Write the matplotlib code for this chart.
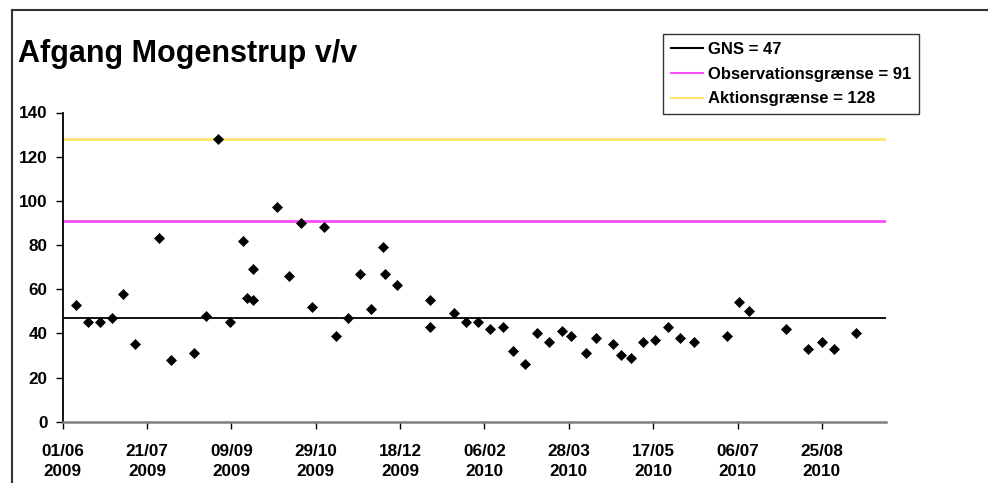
import matplotlib
matplotlib.use("Agg")
import matplotlib.pyplot as plt
import matplotlib.dates as mdates
from matplotlib.lines import Line2D
import numpy as np

plt.rcParams['font.family'] = ['Liberation Sans', 'DejaVu Sans']

title = "Afgang Mogenstrup v/v"

dates = [
    "2009-06-09", "2009-06-16", "2009-06-23", "2009-06-30", "2009-07-07", "2009-07-14",
    "2009-07-28", "2009-08-04", "2009-08-18", "2009-08-25", "2009-09-01", "2009-09-08",
    "2009-09-16", "2009-09-18", "2009-09-22", "2009-09-22", "2009-10-06", "2009-10-13",
    "2009-10-20", "2009-10-27", "2009-11-03", "2009-11-10", "2009-11-17", "2009-11-24",
    "2009-12-01", "2009-12-08", "2009-12-09", "2009-12-16", "2010-01-05", "2010-01-05",
    "2010-01-19", "2010-01-26", "2010-02-02", "2010-02-09", "2010-02-17", "2010-02-23",
    "2010-03-02", "2010-03-09", "2010-03-16", "2010-03-24", "2010-03-29", "2010-04-07",
    "2010-04-13", "2010-04-23", "2010-04-28", "2010-05-04", "2010-05-11", "2010-05-18",
    "2010-05-26", "2010-06-02", "2010-06-10", "2010-06-30", "2010-07-07", "2010-07-13",
    "2010-08-04", "2010-08-17", "2010-08-25", "2010-09-01", "2010-09-14",
]
values = [
    53, 45, 45, 47, 58, 35,
    83, 28, 31, 48, 128, 45,
    82, 56, 69, 55, 97, 66,
    90, 52, 88, 39, 47, 67,
    51, 79, 67, 62, 55, 43,
    49, 45, 45, 42, 43, 32,
    26, 40, 36, 41, 39, 31,
    38, 35, 30, 29, 36, 37,
    43, 38, 36, 39, 54, 50,
    42, 33, 36, 33, 40,
]

gns = 47
obs = 91
akt = 128
legend_labels = ["GNS = 47", "Observationsgrænse = 91", "Aktionsgrænse = 128"]
line_colors = ["#000000", "#FF4DFF", "#FFE36E"]

x_start = "2009-06-01"
x_end = "2010-10-02"
tick_dates = ["2009-06-01", "2009-07-21", "2009-09-09", "2009-10-29", "2009-12-18",
              "2010-02-06", "2010-03-28", "2010-05-17", "2010-07-06", "2010-08-25"]
y_ticks = [0, 20, 40, 60, 80, 100, 120, 140]

W, H = 988, 483
fig = plt.figure(figsize=(W / 100, H / 100), dpi=100)
ax = fig.add_axes([62.7 / W, (H - 421.7) / H, (886 - 62.7) / W, (421.7 - 112.5) / H])

xd = np.array(dates, dtype="datetime64[D]")
x0 = np.datetime64(x_start)
x1 = np.datetime64(x_end)

ax.axhline(gns, color=line_colors[0], lw=1.3, zorder=2)
ax.axhline(obs, color=line_colors[1], lw=2.0, zorder=2)
ax.axhline(akt, color=line_colors[2], lw=2.0, zorder=2)
ax.plot(xd, values, linestyle="none", marker="D", markersize=4.8,
        color="black", markeredgewidth=0.5, zorder=3)

ax.set_xlim(x0, x1)
ax.set_ylim(0, 140)
ax.set_yticks(y_ticks)
ax.set_xticks(np.array(tick_dates, dtype="datetime64[D]"))
ax.xaxis.set_major_formatter(mdates.DateFormatter("%d/%m\n%Y"))

for s in ["top", "right"]:
    ax.spines[s].set_visible(False)
ax.spines["left"].set_color("black")
ax.spines["left"].set_linewidth(1.3)
ax.spines["bottom"].set_color("#808080")
ax.spines["bottom"].set_linewidth(1.8)

ax.tick_params(axis="y", direction="out", length=5, width=1, color="black",
               labelsize=12.3, pad=6)
ax.tick_params(axis="x", direction="out", length=5, width=1, color="black",
               labelsize=12.3, pad=11)
for lbl in ax.get_yticklabels() + ax.get_xticklabels():
    lbl.set_fontweight("bold")
for lbl in ax.get_xticklabels():
    lbl.set_linespacing(1.45)

fig.text(18 / W, 1 - 62 / H, title, fontsize=22, fontweight="bold",
         ha="left", va="baseline")

handles = [Line2D([], [], color=c, lw=1.5) for c in line_colors]
leg = fig.legend(handles, legend_labels, loc="upper left",
                 bbox_to_anchor=(663 / W, 1 - 34 / H), frameon=True,
                 fancybox=False, prop={"size": 12, "weight": "bold"},
                 handlelength=1.95, handletextpad=0.3, labelspacing=0.6,
                 borderpad=0.45, borderaxespad=0)
leg.get_frame().set_edgecolor("black")
leg.get_frame().set_linewidth(1.0)

# outer chart frame (top and left edges visible)
fig.add_artist(Line2D([11.5 / W, 1.0], [1 - 9.5 / H, 1 - 9.5 / H], color="#333333",
                      lw=1.5, transform=fig.transFigure))
fig.add_artist(Line2D([11.5 / W, 11.5 / W], [0.0, 1 - 9.5 / H], color="#333333",
                      lw=1.5, transform=fig.transFigure))

fig.savefig("out.png", dpi=100)
